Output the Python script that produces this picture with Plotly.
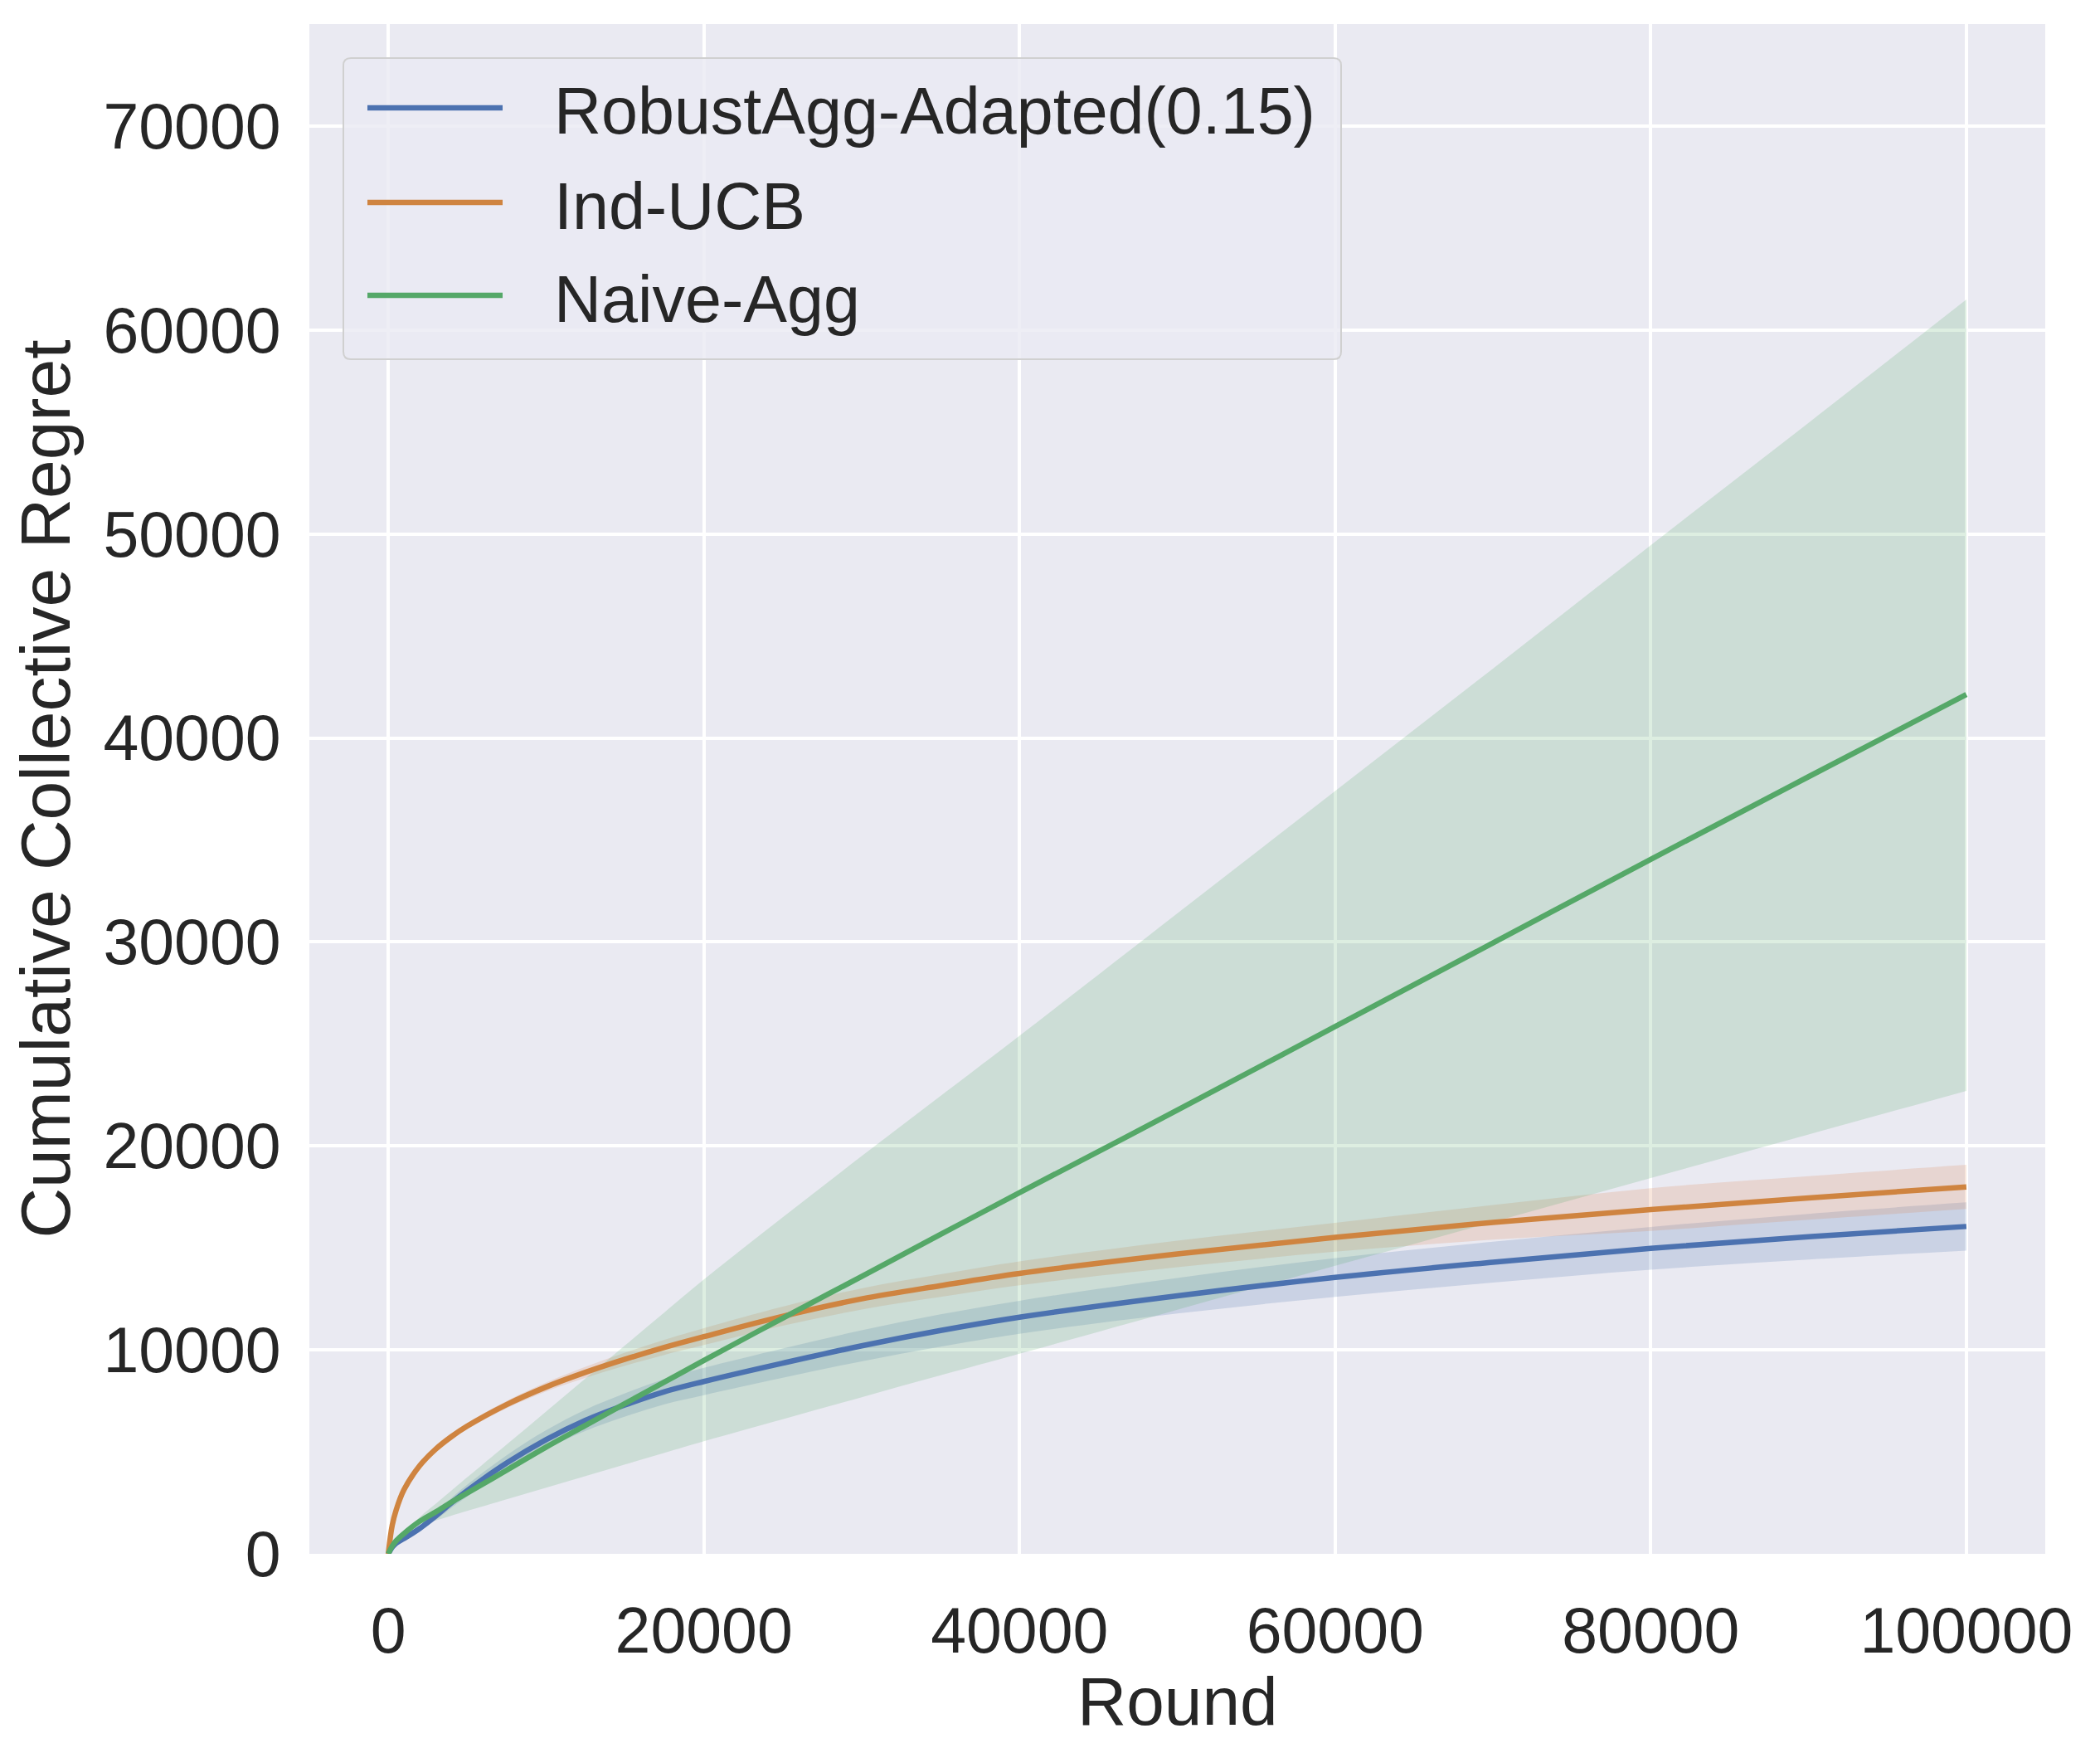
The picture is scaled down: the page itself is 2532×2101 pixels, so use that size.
import plotly.graph_objects as go

rounds = [0, 250, 500, 1000, 2000, 3000, 4000, 5000, 7500, 10000, 12500, 15000, 17500, 20000,
          25000, 30000, 35000, 40000, 50000, 60000, 70000, 80000, 90000, 100000]

robust_mean = [0, 320, 520, 750, 1250, 1850, 2500, 3100, 4450, 5600, 6550, 7300, 7950, 8450,
               9350, 10200, 10950, 11600, 12650, 13550, 14300, 14980, 15550, 16050]
robust_hw = [0, 30, 50, 80, 130, 190, 240, 290, 380, 460, 520, 570, 620, 670,
             720, 760, 790, 810, 870, 950, 1000, 1050, 1120, 1180]

inducb_mean = [0, 1400, 2150, 3150, 4330, 5130, 5745, 6260, 7315, 8180, 8900, 9540, 10125, 10650,
               11650, 12500, 13150, 13750, 14700, 15520, 16250, 16880, 17450, 17990]
inducb_hw = [0, 20, 40, 60, 90, 110, 130, 150, 180, 220, 270, 320, 370, 415,
             470, 520, 555, 585, 650, 710, 850, 1050, 1070, 1085]

naive_mean = [0, 380, 640, 1000, 1600, 2050, 2530, 2980, 4100, 5230, 6300, 7370, 8420, 9480,
              11560, 13600, 15660, 17710, 21750, 25850, 29950, 34050, 38100, 42130]
naive_upper = [0, 380, 640, 1000, 1800, 2450, 3100, 3750, 5360, 6980, 8600, 10220, 11840, 13450,
               16500, 19500, 22450, 25400, 31400, 37400, 43400, 49450, 55450, 61500]
naive_lower = [0, 380, 640, 1000, 1450, 1640, 1870, 2100, 2670, 3240, 3810, 4380, 4950, 5520,
               6600, 7680, 8750, 9810, 11970, 14120, 16270, 18420, 20560, 22700]

names = ["RobustAgg-Adapted(0.15)", "Ind-UCB", "Naive-Agg"]
colors = ["#4C72B0", "#CF8440", "#55A868"]
fills = ["rgba(76,114,176,0.2)", "rgba(221,132,82,0.2)", "rgba(85,168,104,0.2)"]

uppers = [[m + h for m, h in zip(robust_mean, robust_hw)],
          [m + h for m, h in zip(inducb_mean, inducb_hw)],
          naive_upper]
lowers = [[m - h for m, h in zip(robust_mean, robust_hw)],
          [m - h for m, h in zip(inducb_mean, inducb_hw)],
          naive_lower]
means = [robust_mean, inducb_mean, naive_mean]

fig = go.Figure()
# confidence bands first (below all lines)
for i in range(3):
    fig.add_trace(go.Scatter(x=rounds, y=uppers[i], mode="lines",
                             line=dict(width=0, shape="spline", smoothing=1.0),
                             showlegend=False, hoverinfo="skip"))
    fig.add_trace(go.Scatter(x=rounds, y=lowers[i], mode="lines",
                             line=dict(width=0, shape="spline", smoothing=1.0),
                             fill="tonexty", fillcolor=fills[i], showlegend=False, hoverinfo="skip"))
for i in range(3):
    fig.add_trace(go.Scatter(x=rounds, y=means[i], mode="lines", name=names[i],
                             line=dict(color=colors[i], width=6.5, shape="spline", smoothing=1.0),
                             showlegend=False))

FONT = "Liberation Sans, Arial, sans-serif"
TXT = "#262626"

# the page body adds an 8px offset; figure is sized to fit the window
OFF = 8
W, H = 2532 - OFF, 2101 - OFF
# plot area in screen pixels
SL, ST, SR, SB = 373, 29, 2466, 1873
L, T = SL - OFF, ST - OFF
R, B = W - (SR - OFF), H - (SB - OFF)
pw, ph = SR - SL, SB - ST

def px(xs):
    return (xs - SL) / pw

def py(ys):
    return (SB - ys) / ph

x0, x1, y0, y1 = px(414), px(1617), py(433), py(70)
rx, ry = 9 / pw, 9 / ph
path = (f"M{x0+rx},{y0} L{x1-rx},{y0} Q{x1},{y0} {x1},{y0+ry} L{x1},{y1-ry} Q{x1},{y1} {x1-rx},{y1} "
        f"L{x0+rx},{y1} Q{x0},{y1} {x0},{y1-ry} L{x0},{y0+ry} Q{x0},{y0} {x0+rx},{y0} Z")
shapes = [dict(type="path", xref="paper", yref="paper", path=path,
               fillcolor="rgba(234,234,242,0.8)", line=dict(color="#D0D0D0", width=2))]
annotations = []
entry_y = [130, 244, 356]
for i in range(3):
    yy = py(entry_y[i])
    shapes.append(dict(type="line", xref="paper", yref="paper", x0=px(443), x1=px(606), y0=yy, y1=yy,
                       line=dict(color=colors[i], width=6.5)))
    annotations.append(dict(xref="paper", yref="paper", x=px(666), y=py(entry_y[i] + 4), text=names[i],
                            showarrow=False, xanchor="left", yanchor="middle",
                            font=dict(family=FONT, size=79, color=TXT)))
# x-axis title
annotations.append(dict(xref="paper", yref="paper", x=0.5, y=py(2050), text="Round",
                        showarrow=False, xanchor="center", yanchor="middle",
                        font=dict(family=FONT, size=82, color=TXT)))

fig.update_layout(
    width=W, height=H,
    margin=dict(l=L, r=R, t=T, b=B, autoexpand=False),
    paper_bgcolor="white", plot_bgcolor="#EAEAF2",
    font=dict(family=FONT, color=TXT, size=77),
    shapes=shapes, annotations=annotations,
    showlegend=False,
)
fig.update_xaxes(range=[-5000, 105000], tickvals=[0, 20000, 40000, 60000, 80000, 100000],
                 ticktext=["0", "20000", "40000", "60000", "80000", "100000"],
                 showgrid=True, gridcolor="white", gridwidth=3.5, zeroline=False, showline=False,
                 ticks="outside", ticklen=26, tickcolor="rgba(0,0,0,0)", automargin=False,
                 tickfont=dict(size=77, family=FONT, color=TXT))
fig.update_yaxes(range=[0, 75000], tickvals=[0, 10000, 20000, 30000, 40000, 50000, 60000, 70000],
                 ticktext=["0", "10000", "20000", "30000", "40000", "50000", "60000", "70000"],
                 showgrid=True, gridcolor="white", gridwidth=3.5, zeroline=False, showline=False,
                 ticks="outside", ticklen=18, tickcolor="rgba(0,0,0,0)", automargin=False,
                 tickfont=dict(size=77, family=FONT, color=TXT),
                 title=dict(text="Cumulative Collective Regret", font=dict(size=84, family=FONT, color=TXT), standoff=30))

fig.write_html("out.html")
